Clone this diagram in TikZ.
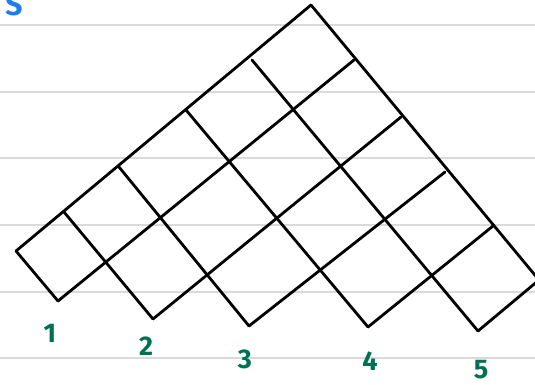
\documentclass[tikz,border=0pt]{standalone}
\usepackage{fontspec}
\newfontfamily\handfont{Fira Sans}
\usetikzlibrary{positioning}

\definecolor{rulegray}{RGB}{218,218,218}
\definecolor{numgreen}{RGB}{0,112,82}
\definecolor{penblue}{RGB}{30,125,235}

\begin{document}
\begin{tikzpicture}[
    x=1pt, y=-1pt,
    ruleline/.style={draw=rulegray, line width=2pt},
    gridline/.style={draw=black, line width=2.8pt, line cap=round},
    num/.style={text=numgreen, inner sep=0pt,
        font=\handfont\bfseries\fontsize{27}{27}\selectfont},
]

\useasboundingbox (0,0) rectangle (535,385);
\clip (0,0) rectangle (535,385);

% ============================================================
% Paper
% ============================================================

\foreach \y in {25,92,158,225,292,358}
    \draw[ruleline] (0,\y) -- (535,\y);

\node[text=penblue, inner sep=0pt, anchor=south,
    font=\handfont\bfseries\fontsize{30}{30}\selectfont] (top) at (14,16.5) {S};

% ============================================================
% Staircase
% ============================================================

% corners
\coordinate (L) at (16,251);
\coordinate (T) at (311,5);
\coordinate (R) at (539,280);

% bottom points of the five columns
\coordinate (b1) at (58,301);
\coordinate (b2) at (153,319);
\coordinate (b3) at (249,326);
\coordinate (b4) at (368,327);
\coordinate (b5) at (478,331);

% ends on the left edge
\coordinate (l1) at (64,212);
\coordinate (l2) at (119,167);
\coordinate (l3) at (186,110);
\coordinate (l4) at (252,60);

% ends on the right edge
\coordinate (r1) at (354,60);
\coordinate (r2) at (401,117);
\coordinate (r3) at (445,172);
\coordinate (r4) at (493,226);

% lines going up to the right
\foreach \a/\b in {L/T, b1/r1, b2/r2, b3/r3, b4/r4, b5/R}
    \draw[gridline] (\a) -- (\b);

% lines going down to the right
\foreach \a/\b in {L/b1, l1/b2, l2/b3, l3/b4, l4/b5, T/R}
    \draw[gridline] (\a) -- (\b);

% ============================================================
% Column numbers
% ============================================================

\node[num] (n1) at (50,333) {1};
\node[num] (n2) at (146,346) {2};
\node[num] (n3) at (245,359) {3};
\node[num] (n4) at (370,361) {4};
\node[num] (n5) at (481,370) {5};

\end{tikzpicture}
\end{document}
